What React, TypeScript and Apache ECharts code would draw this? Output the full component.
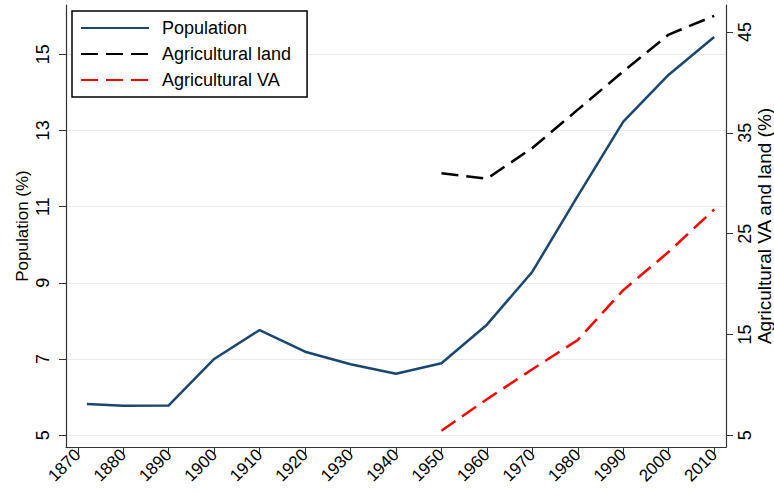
import React, { useEffect, useRef } from "react";
import * as echarts from "echarts";

const popYears = [1872, 1880, 1890, 1900, 1910, 1920, 1930, 1940, 1950, 1960, 1970, 1980, 1990, 2000, 2010];
const population = [5.82, 5.77, 5.78, 7.0, 7.76, 7.19, 6.86, 6.61, 6.89, 7.9, 9.29, 11.28, 13.23, 14.46, 15.45];
const agYears = [1950, 1960, 1970, 1980, 1990, 2000, 2010];
const agLand = [31.0, 30.45, 33.5, 37.3, 41.1, 44.75, 46.6];
const agVA = [5.46, 8.58, 11.55, 14.46, 19.4, 23.2, 27.4];
const xTicks = [1870, 1880, 1890, 1900, 1910, 1920, 1930, 1940, 1950, 1960, 1970, 1980, 1990, 2000, 2010];
const leftTicks = [5, 7, 9, 11, 13, 15];
const rightTicks = [5, 15, 25, 35, 45];

const FONT = "'Liberation Sans', Arial, Helvetica, sans-serif";

export default function App() {
  const ref = useRef<HTMLDivElement>(null);
  useEffect(() => {
    if (!ref.current) return;
    const chart = echarts.init(ref.current, undefined, { renderer: "svg" });
    const axisLine = { show: true, lineStyle: { color: "#333", width: 1.2 } };
    chart.setOption({
      animation: false,
      backgroundColor: "#fff",
      textStyle: { fontFamily: FONT },
      grid: { left: 66, right: 48, top: 5, bottom: 46, containLabel: false, outerBoundsMode: "none" },
      legend: {
        orient: "vertical",
        left: 72,
        top: 11,
        itemWidth: 68,
        itemHeight: 18,
        itemGap: 8,
        padding: [8, 16, 8, 8],
        borderColor: "#000",
        borderWidth: 1.5,
        borderRadius: 0,
        backgroundColor: "#fff",
        itemStyle: { color: "rgba(0,0,0,0)", borderWidth: 0, opacity: 0 },
        textStyle: { fontFamily: FONT, fontSize: 18, lineHeight: 18, color: "#000", padding: [0, 0, 0, 8] },
        data: ["Population", "Agricultural land", "Agricultural VA"],
      },
      xAxis: {
        type: "value",
        min: 1867.4,
        max: 2012.6,
        axisLine,
        splitLine: { show: false },
        axisTick: { show: true, length: 7, customValues: xTicks, lineStyle: { color: "#333" } },
        axisLabel: {
          customValues: xTicks,
          formatter: (v: number) => String(v),
          rotate: 45,
          fontSize: 17,
          color: "#000",
          fontFamily: FONT,
          margin: 5,
        },
      },
      yAxis: [
        {
          type: "value",
          min: 4.69,
          max: 16.29,
          position: "left",
          name: "Population (%)",
          nameLocation: "middle",
          nameGap: 35,
          nameRotate: 90,
          nameMoveOverlap: false,
          nameTextStyle: { fontSize: 17, color: "#000", fontFamily: FONT, verticalAlign: "bottom" },
          axisLine,
          axisTick: { show: true, length: 7, customValues: leftTicks, lineStyle: { color: "#333" } },
          axisLabel: {
            customValues: leftTicks,
            rotate: 90,
            fontSize: 18,
            color: "#000",
            fontFamily: FONT,
            margin: 14,
            verticalAlign: "bottom",
          },
          splitLine: { show: true, lineStyle: { color: "#eaeaea", width: 1 } },
        },
        {
          type: "value",
          min: 3.84,
          max: 47.68,
          position: "right",
          name: "Agricultural VA and land (%)",
          nameLocation: "middle",
          nameGap: 29,
          nameRotate: 90,
          nameMoveOverlap: false,
          nameTextStyle: { fontSize: 19, color: "#000", fontFamily: FONT, verticalAlign: "top" },
          axisLine,
          axisTick: { show: true, length: 7, customValues: rightTicks, lineStyle: { color: "#333" } },
          axisLabel: {
            customValues: rightTicks,
            rotate: 90,
            fontSize: 18,
            color: "#000",
            fontFamily: FONT,
            margin: 10,
            verticalAlign: "top",
          },
          splitLine: { show: false },
        },
      ],
      series: [
        {
          name: "Population",
          type: "line",
          yAxisIndex: 0,
          symbol: "none",
          data: popYears.map((y, i) => [y, population[i]]),
          lineStyle: { color: "#1a476f", width: 2.5 },
          itemStyle: { color: "#1a476f" },
        },
        {
          name: "Agricultural land",
          type: "line",
          yAxisIndex: 1,
          symbol: "none",
          data: agYears.map((y, i) => [y, agLand[i]]),
          lineStyle: { color: "#000", width: 2.5, type: [17, 8] },
          itemStyle: { color: "#000" },
        },
        {
          name: "Agricultural VA",
          type: "line",
          yAxisIndex: 1,
          symbol: "none",
          data: agYears.map((y, i) => [y, agVA[i]]),
          lineStyle: { color: "#ff0000", width: 2.5, type: [17, 8] },
          itemStyle: { color: "#ff0000" },
        },
      ],
    });
    return () => chart.dispose();
  }, []);
  return <div ref={ref} style={{ width: 774, height: 493, position: "absolute", left: 0, top: 0 }} />;
}
